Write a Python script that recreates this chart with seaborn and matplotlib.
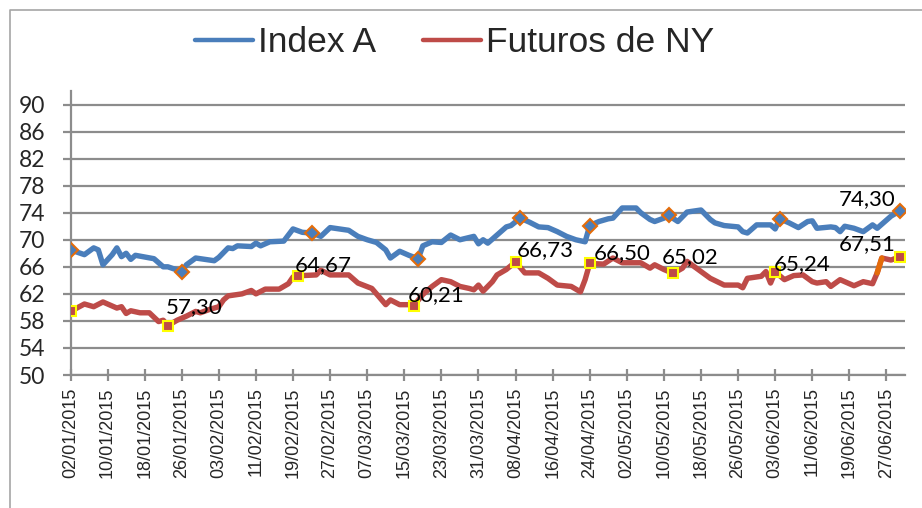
import matplotlib
matplotlib.use("Agg")
import matplotlib.pyplot as plt
import matplotlib.dates as mdates
from matplotlib.lines import Line2D
import pandas as pd
import seaborn as sns

# --- data (dd/mm, 2015) ---
index_dates = ["02/01", "05/01", "07/01", "08/01", "09/01", "11/01", "12/01", "13/01", "14/01", "15/01",
               "16/01", "20/01", "22/01", "23/01", "26/01", "27/01", "29/01", "02/02", "03/02", "05/02",
               "06/02", "07/02", "10/02", "11/02", "12/02", "14/02", "17/02", "19/02", "21/02", "23/02",
               "25/02", "27/02", "01/03", "03/03", "05/03", "07/03", "09/03", "11/03", "12/03", "14/03",
               "16/03", "18/03", "19/03", "21/03", "23/03", "25/03", "27/03", "30/03", "31/03", "01/04",
               "02/04", "04/04", "06/04", "07/04", "09/04", "11/04", "13/04", "15/04", "17/04", "19/04",
               "21/04", "23/04", "24/04", "26/04", "28/04", "29/04", "01/05", "04/05", "05/05", "07/05",
               "08/05", "10/05", "11/05", "13/05", "15/05", "18/05", "20/05", "21/05", "23/05", "26/05",
               "27/05", "28/05", "30/05", "02/06", "03/06", "04/06", "06/06", "08/06", "10/06", "11/06",
               "12/06", "15/06", "16/06", "17/06", "18/06", "20/06", "22/06", "24/06", "25/06", "28/06",
               "30/06"]
index_vals = [68.5, 67.8, 68.8, 68.5, 66.3, 67.8, 68.8, 67.5, 68.0, 67.1,
              67.7, 67.2, 66.0, 66.0, 65.3, 66.3, 67.3, 66.9, 67.4, 68.8,
              68.7, 69.1, 69.0, 69.5, 69.1, 69.7, 69.8, 71.6, 71.1, 71.0,
              70.5, 71.8, 71.6, 71.4, 70.5, 70.0, 69.6, 68.5, 67.3, 68.3,
              67.7, 67.2, 69.1, 69.7, 69.6, 70.7, 70.0, 70.5, 69.4, 70.0,
              69.5, 70.7, 71.9, 72.1, 73.2, 72.6, 71.9, 71.8, 71.2, 70.5,
              70.0, 69.7, 72.1, 72.7, 73.1, 73.2, 74.7, 74.7, 74.0, 73.0,
              72.7, 73.2, 73.6, 72.7, 74.1, 74.4, 73.0, 72.5, 72.1, 71.9,
              71.2, 71.0, 72.2, 72.2, 71.6, 73.1, 72.5, 71.8, 72.7, 72.8,
              71.7, 71.9, 71.8, 71.2, 72.0, 71.7, 71.2, 72.2, 71.7, 73.5,
              74.30]

ny_dates = ["02/01", "05/01", "07/01", "09/01", "12/01", "13/01", "14/01", "15/01", "17/01", "19/01",
            "21/01", "22/01", "23/01", "25/01", "27/01", "29/01", "30/01", "01/02", "03/02", "04/02",
            "05/02", "08/02", "10/02", "11/02", "13/02", "16/02", "18/02", "19/02", "20/02", "24/02",
            "25/02", "27/02", "03/03", "05/03", "08/03", "09/03", "11/03", "12/03", "14/03", "16/03",
            "17/03", "19/03", "21/03", "23/03", "25/03", "27/03", "29/03", "30/03", "31/03", "01/04",
            "03/04", "04/04", "06/04", "08/04", "10/04", "13/04", "15/04", "17/04", "20/04", "22/04",
            "23/04", "24/04", "27/04", "29/04", "01/05", "05/05", "07/05", "08/05", "10/05", "12/05",
            "14/05", "15/05", "18/05", "20/05", "23/05", "26/05", "27/05", "28/05", "31/05", "01/06",
            "02/06", "03/06", "05/06", "07/06", "09/06", "11/06", "12/06", "14/06", "15/06", "17/06",
            "18/06", "20/06", "22/06", "24/06", "25/06", "26/06", "28/06", "30/06"]
ny_vals = [59.40, 60.5, 60.1, 60.8, 59.9, 60.1, 59.1, 59.5, 59.2, 59.2,
           57.9, 58.1, 57.30, 58.1, 58.7, 59.4, 59.2, 59.7, 60.1, 61.1,
           61.7, 62.0, 62.5, 62.0, 62.7, 62.7, 63.5, 64.5, 64.67, 64.8,
           65.5, 64.8, 64.8, 63.6, 62.8, 62.0, 60.4, 61.1, 60.4, 60.4,
           60.21, 61.9, 63.1, 64.1, 63.8, 63.1, 62.8, 62.6, 63.3, 62.4,
           63.8, 64.8, 65.6, 66.73, 65.1, 65.1, 64.3, 63.3, 63.1, 62.3,
           64.1, 66.50, 66.4, 67.3, 66.6, 66.6, 65.8, 66.3, 65.6, 65.02,
           65.8, 66.8, 65.3, 64.3, 63.3, 63.3, 62.9, 64.3, 64.6, 65.3,
           63.6, 65.24, 64.1, 64.7, 64.8, 63.8, 63.6, 63.8, 63.1, 64.1,
           63.8, 63.2, 63.8, 63.5, 65.1, 67.3, 67.0, 67.51]

index_marked = ["02/01", "26/01", "23/02", "18/03", "09/04", "24/04", "11/05", "04/06", "30/06"]
ny_marked = ["02/01", "23/01", "20/02", "17/03", "08/04", "24/04", "12/05", "03/06", "30/06"]
ny_highlight = ["25/06", "26/06"]   # segment drawn in orange

tick_dates = pd.date_range("2015-01-02", "2015-06-27", freq="8D")
y_ticks = list(range(50, 91, 4))


def to_dt(days):
    return pd.to_datetime([d + "/2015" for d in days], format="%d/%m/%Y")


BLUE = "#4A7EBB"
RED = "#BE4B48"
ORANGE = "#E46C0A"

df = pd.concat([
    pd.DataFrame({"date": to_dt(index_dates), "value": index_vals, "serie": "Index A"}),
    pd.DataFrame({"date": to_dt(ny_dates), "value": ny_vals, "serie": "Futuros de NY"}),
])

sns.set_style("white")
plt.rcParams["font.family"] = ["Lato", "DejaVu Sans"]

fig = plt.figure(figsize=(9.22, 5.08), dpi=100)
ax = fig.add_axes([70.5 / 922, 1 - 375 / 508, (905 - 70.5) / 922, (375 - 91) / 508])

sns.lineplot(data=df, x="date", y="value", hue="serie",
             palette={"Index A": BLUE, "Futuros de NY": RED},
             linewidth=3.9, legend=False, ax=ax, solid_joinstyle="round",
             solid_capstyle="round")

ny = df[df.serie == "Futuros de NY"].set_index("date")["value"]
ix = df[df.serie == "Index A"].set_index("date")["value"]

hl = ny.loc[to_dt(ny_highlight)]
ax.plot(hl.index, hl.values, color=ORANGE, lw=3.9, solid_capstyle="round", zorder=3)

im = ix.loc[to_dt(index_marked)]
ax.plot(im.index, im.values, ls="none", marker="D", ms=7, mfc=BLUE,
        mec=ORANGE, mew=1.5, zorder=4)
nm = ny.loc[to_dt(ny_marked)]
ax.plot(nm.index, nm.values, ls="none", marker="s", ms=7.5, mfc=RED,
        mec="#FFFF00", mew=1.5, zorder=4)

# data labels (offsets in px: dx, dy above marker)
label_offsets = [(-2, 13), (-3, 5), (-6, 5), (1, 6), (4, 4), (-11, 10), (-1, 2)]
for (d, v), (dx, dy) in zip(list(nm.items())[1:-1], label_offsets):
    ax.annotate(f"{v:.2f}".replace(".", ","), (d, v), xytext=(dx * 0.72, dy * 0.72),
                textcoords="offset points", ha="left", va="baseline",
                fontsize=16, color="black", zorder=5)
for s, dy in [(nm, 7), (im, 6)]:
    d, v = s.index[-1], s.values[-1]
    ax.annotate(f"{v:.2f}".replace(".", ","), (d, v), xytext=(-5 * 0.72, dy * 0.72),
                textcoords="offset points", ha="right", va="baseline",
                fontsize=16, color="black", zorder=5)

ax.set_xlim(pd.Timestamp("2015-01-02"), pd.Timestamp("2015-07-01"))
ax.set_ylim(50, 92)
ax.set_yticks(y_ticks)
ax.set_xticks(tick_dates)
ax.xaxis.set_major_formatter(mdates.DateFormatter("%d/%m/%Y"))
ax.set_xlabel("")
ax.set_ylabel("")

GRID = "#8C8C8C"
ax.yaxis.grid(True, color=GRID, lw=1.6)
ax.xaxis.grid(False)
for side in ["top", "right"]:
    ax.spines[side].set_visible(False)
for side in ["left", "bottom"]:
    ax.spines[side].set_color(GRID)
    ax.spines[side].set_linewidth(1.6)

ax.tick_params(axis="y", which="major", direction="out", length=6, width=1.6,
               color=GRID, labelsize=16.5, pad=12, left=True)
ax.tick_params(axis="x", which="major", direction="inout", length=8, width=1.6,
               color=GRID, pad=5, bottom=True)
for lab in ax.get_xticklabels():
    lab.set_rotation(90)
    lab.set_fontfamily(["Liberation Sans", "DejaVu Sans"])
    lab.set_fontsize(13)

handles = [Line2D([], [], color=BLUE, lw=3.2, solid_capstyle="round"),
           Line2D([], [], color=RED, lw=3.2, solid_capstyle="round")]
fig.legend(handles, ["Index A", "Futuros de NY"], loc="center",
           bbox_to_anchor=(0.493, 1 - 43 / 508), ncol=2, frameon=False,
           prop={"family": ["Liberation Sans", "DejaVu Sans"], "size": 25.5},
           handlelength=1.65, handletextpad=0.15, columnspacing=1.3)

# outer chart-area border (only top and left edges are in view)
fig.add_artist(Line2D([10 / 922, 10 / 922, 1], [0, 1 - 10 / 508, 1 - 10 / 508],
                      transform=fig.transFigure, color="#A6A6A6", lw=1.2))

fig.savefig("out.png", dpi=100)
